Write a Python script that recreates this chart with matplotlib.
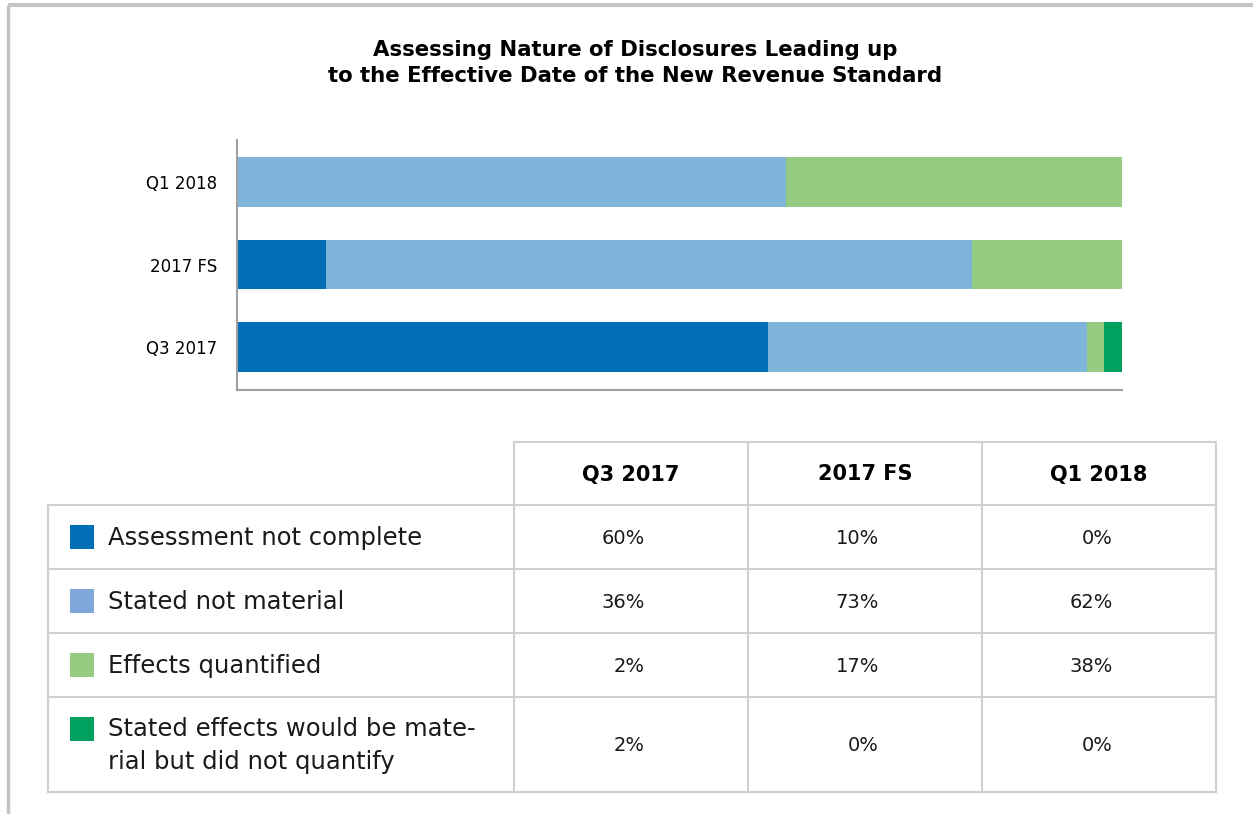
import matplotlib.pyplot as plt
from matplotlib.patches import Rectangle

periods = ['Q3 2017', '2017 FS', 'Q1 2018']
categories = ['Assessment not complete', 'Stated not material', 'Effects quantified',
              'Stated effects would be mate-\nrial but did not quantify']
values = {
    'Assessment not complete': [60, 10, 0],
    'Stated not material': [36, 73, 62],
    'Effects quantified': [2, 17, 38],
    'Stated effects would be material': [2, 0, 0],
}
bar_colors = ['#006db7', '#7fb5db', '#96cc82', '#00a15f']
swatch_colors = ['#006db7', '#80a7d9', '#96cc82', '#00a15f']

plt.rcParams['font.family'] = ['DejaVu Sans']
W, H = 1253, 814
fig = plt.figure(figsize=(W / 100, H / 100), dpi=100)

# background canvas in pixel units, for frame, title and table
bg = fig.add_axes([0, 0, 1, 1])
bg.set_xlim(0, W)
bg.set_ylim(H, 0)
bg.axis('off')
bg.plot([8, W], [5, 5], color='#c4c4c4', lw=3, solid_capstyle='butt')
bg.plot([8, 8], [5, H], color='#c4c4c4', lw=2.5, solid_capstyle='butt')

bg.text(635, 63, 'Assessing Nature of Disclosures Leading up\nto the Effective Date of the New Revenue Standard',
        ha='center', va='center', fontsize=15.3, fontweight='bold', linespacing=1.42)

# stacked horizontal bars
ax = fig.add_axes([237 / W, 1 - 390 / H, 885 / W, 250 / H])
ypos = range(len(periods))
left = [0] * len(periods)
for vals, c in zip(values.values(), bar_colors):
    ax.barh(ypos, vals, left=left, height=0.6, color=c, linewidth=0)
    left = [l + v for l, v in zip(left, vals)]
ax.set_xlim(0, 100)
ax.set_ylim(-0.52, 2.51)
ax.set_yticks(list(ypos))
ax.set_yticklabels(periods, fontsize=12)
ax.tick_params(axis='y', length=0, pad=14)
ax.set_xticks([])
for s in ['top', 'right']:
    ax.spines[s].set_visible(False)
for s in ['left', 'bottom']:
    ax.spines[s].set_color('#a0a0a0')
    ax.spines[s].set_linewidth(1.5)

# data table below the chart
grid = '#d0d0d0'
col_x = [48, 514, 748, 982, 1216]
row_y = [442, 505, 569, 633, 697, 792]
for x in col_x[1:]:
    bg.plot([x, x], [row_y[0], row_y[-1]], color=grid, lw=1.5)
bg.plot([col_x[0], col_x[0]], [row_y[1], row_y[-1]], color=grid, lw=1.5)
bg.plot([col_x[1], col_x[-1]], [row_y[0], row_y[0]], color=grid, lw=1.5)
for y in row_y[1:]:
    bg.plot([col_x[0], col_x[-1]], [y, y], color=grid, lw=1.5)

for j, p in enumerate(periods):
    cx = (col_x[j + 1] + col_x[j + 2]) / 2
    bg.text(cx, (row_y[0] + row_y[1]) / 2 + 1, p, ha='center', va='center',
            fontsize=15, fontweight='bold')

for i, (name, vals) in enumerate(zip(categories, values.values())):
    cy = (row_y[i + 1] + row_y[i + 2]) / 2
    sy = cy if i < 3 else cy - 16
    bg.add_patch(Rectangle((70, sy - 12), 24, 24, color=swatch_colors[i], lw=0))
    bg.text(108, cy + 1, name, ha='left', va='center', fontsize=17.5, linespacing=1.5,
            color='#1a1a1a')
    for j, v in enumerate(vals):
        cx = (col_x[j + 1] + col_x[j + 2]) / 2
        bg.text(cx + 14, cy + 1, f'{v}%', ha='right', va='center', fontsize=14,
                color='#1a1a1a')

fig.savefig('out.png', dpi=100)
